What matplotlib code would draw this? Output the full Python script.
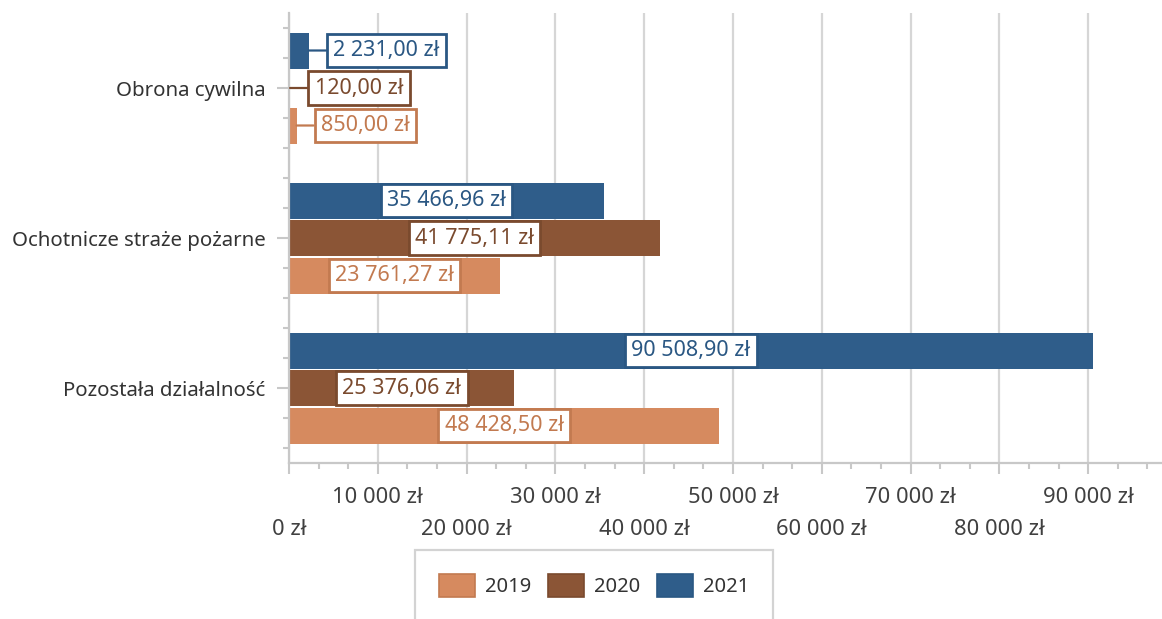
import numpy as np
import matplotlib
matplotlib.use("Agg")
import matplotlib.pyplot as plt
from matplotlib.patches import Patch

plt.rcParams['font.family'] = ['Noto Sans', 'DejaVu Sans']

categories = ["Obrona cywilna", "Ochotnicze straże pożarne", "Pozostała działalność"]
years = ["2019", "2020", "2021"]
v2019 = [850.00, 23761.27, 48428.50]
v2020 = [120.00, 41775.11, 25376.06]
v2021 = [2231.00, 35466.96, 90508.90]
values = [v2019, v2020, v2021]

bar_colors = ["#D68A5F", "#8B5536", "#2F5D8A"]
text_colors = ["#C27A50", "#7A4A2E", "#2A5783"]
# small bars -> label outside (left edge of text, data units)
outside_x = {(0, 0): 3600, (1, 0): 2900, (2, 0): 5000}


def pln(v):
    return f"{v:,.2f}".replace(",", " ").replace(".", ",") + " zł"


def tick_pln(v):
    return f"{v:,.0f}".replace(",", " ") + " zł"


fig = plt.figure(figsize=(11.62, 6.19), dpi=100)
ax = fig.add_axes([289/1162, 1-463/619, (1177-289)/1162, (463-13)/619])

y = np.arange(len(categories))
offsets = [0.25, 0.0, -0.25]
h = 0.24
for i, yr in enumerate(years):
    ax.barh(y + offsets[i], values[i], height=h, color=bar_colors[i], zorder=2)
    for j, v in enumerate(values[i]):
        yy = y[j] + offsets[i]
        bb = dict(boxstyle="square,pad=0.3", fc="white", ec=text_colors[i], lw=2)
        if (i, j) in outside_x:
            ax.annotate(pln(v), xy=(v, yy), xytext=(outside_x[(i, j)], yy),
                        ha="left", va="center", fontsize=15.5, color=text_colors[i],
                        bbox=bb, zorder=4,
                        arrowprops=dict(arrowstyle="-", color=text_colors[i], lw=1.6,
                                        shrinkA=0, shrinkB=0))
        else:
            ax.text(v / 2, yy, pln(v), ha="center", va="center", fontsize=15.5,
                    color=text_colors[i], bbox=bb, zorder=4)

ax.set_ylim(2.5, -0.5)
ax.set_xlim(0, 100000)

ax.set_yticks(y)
ax.set_yticklabels(categories, fontsize=14.7, color="#333333")
ax.set_yticks([c + d for c in y for d in (-0.4, -0.2, 0.2, 0.4)], minor=True)
ax.tick_params(axis="y", which="major", length=9, width=1.5, color="#C8C8C8", pad=8)
ax.tick_params(axis="y", which="minor", length=4, width=1.5, color="#C8C8C8")

xt = np.arange(0, 100001, 10000)
ax.set_xticks(xt)
# last tick (100 000) falls outside the visible picture
ax.set_xticklabels([tick_pln(v) if v < 100000 else "" for v in xt],
                   fontsize=15.8, color="#404040")
ax.set_xticks([a + b for a in xt[:-1] for b in (10000/3, 20000/3)], minor=True)
ax.tick_params(axis="x", which="major", length=8, width=1.5, color="#C8C8C8")
ax.tick_params(axis="x", which="minor", length=4, width=1.5, color="#C8C8C8")
for k, t in enumerate(ax.xaxis.get_major_ticks()):
    t.set_pad(32 if k % 2 == 0 else 9)

ax.grid(axis="x", which="major", color="#D6D6D6", lw=1.6, zorder=0)
ax.set_axisbelow(True)
for s in ["top", "right"]:
    ax.spines[s].set_visible(False)
for s in ["left", "bottom"]:
    ax.spines[s].set_color("#C8C8C8")
    ax.spines[s].set_linewidth(1.6)

handles = [Patch(facecolor=bar_colors[i], edgecolor=text_colors[i], lw=1.2, label=years[i])
           for i in range(3)]
leg = fig.legend(handles=handles, loc="upper left", bbox_to_anchor=(415/1162, 1-550/619),
                 ncol=3, fontsize=14.5, frameon=True, fancybox=False, borderpad=1.2,
                 borderaxespad=0, handlelength=1.8, handleheight=1.4, handletextpad=0.5,
                 columnspacing=0.8, labelcolor="#333333")
leg.get_frame().set_edgecolor("#C8C8C8")
leg.get_frame().set_linewidth(1.6)

fig.savefig("out.png", dpi=100)
